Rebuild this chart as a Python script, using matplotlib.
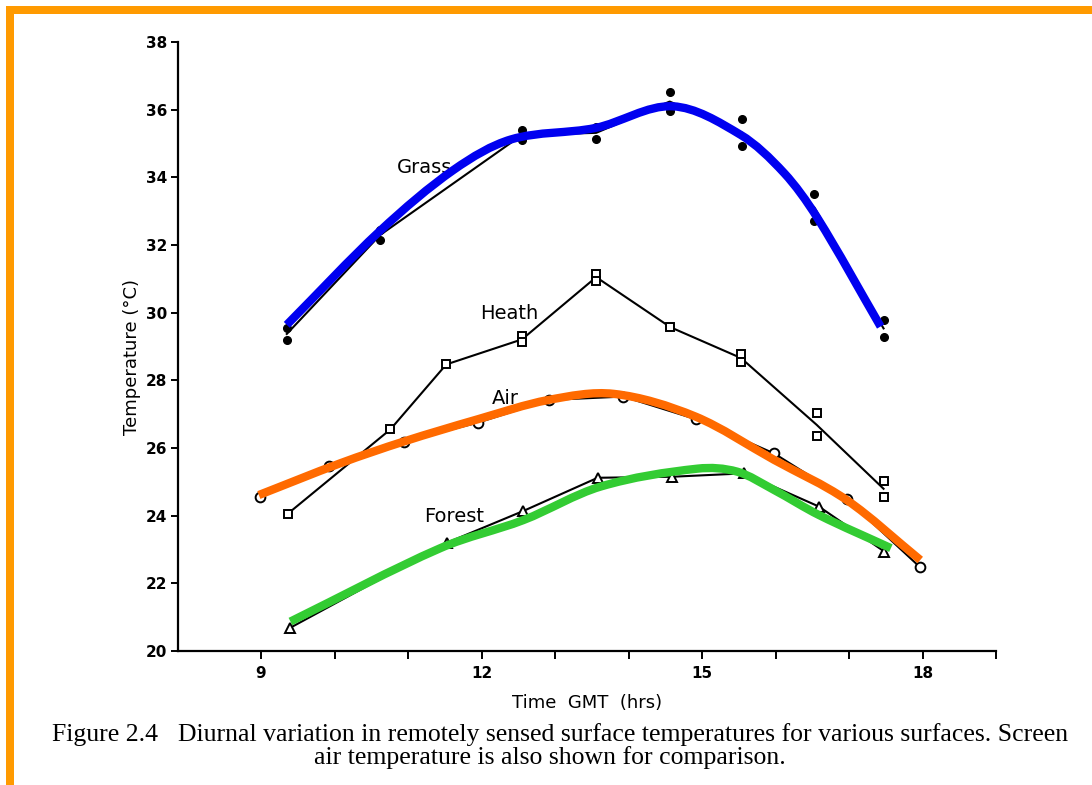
import numpy as np
import matplotlib
matplotlib.use("Agg")
import matplotlib.pyplot as plt
from matplotlib.path import Path
from matplotlib.patches import PathPatch, Rectangle
from matplotlib.ticker import FixedLocator

# ---- measurements -------------------------------------------------------
# Grass: two readings per overpass (filled dots)
grass_t = [9.35, 10.62, 12.55, 13.56, 14.56, 15.54, 16.53, 17.47]
grass_hi = [29.55, 32.44, 35.40, 35.50, 36.53, 35.72, 33.50, 29.78]
grass_lo = [29.19, 32.15, 35.10, 35.13, 35.95, 34.93, 32.71, 29.29]

# Heath: open squares (second reading where one was taken)
heath_t = [9.36, 10.76, 11.52, 12.55, 13.56, 14.57, 15.53, 16.56, 17.47]
heath_hi = [24.05, 26.55, 28.47, 29.30, 31.15, 29.57, 28.77, 27.03, 25.03]
heath_lo = [np.nan, np.nan, np.nan, 29.12, 30.95, np.nan, 28.55, 26.34, 24.56]

# Screen air temperature: open circles
air_t = [8.98, 9.93, 10.95, 11.95, 12.92, 13.93, 14.92, 15.98, 16.97, 17.97]
air_temp = [24.56, 25.47, 26.19, 26.75, 27.42, 27.52, 26.85, 25.84, 24.49, 22.47]

# Forest: open triangles
forest_t = [9.40, 11.53, 12.57, 13.58, 14.59, 15.57, 16.59, 17.48]
forest_temp = [20.69, 23.20, 24.14, 25.12, 25.15, 25.25, 24.27, 22.94]

# Smoothed trend curves (knots)
grass_curve_t = [9.35, 10.62, 11.62, 12.40, 13.55, 14.60, 15.53, 16.12, 16.57,
                 17.43]
grass_curve_v = [29.64, 32.42, 34.22, 35.12, 35.46, 36.10, 35.25, 34.12, 32.80,
                 29.59]
air_curve_t = [8.97, 10.08, 10.94, 11.95, 12.91, 13.80, 14.91, 15.98, 16.97,
               17.97]
air_curve_v = [24.61, 25.55, 26.19, 26.85, 27.42, 27.60, 26.93, 25.65, 24.46,
               22.69]
forest_curve_t = [9.40, 11.44, 12.57, 13.62, 14.94, 15.48, 15.98, 16.59, 17.57]
forest_curve_v = [20.87, 23.04, 23.87, 24.86, 25.39, 25.30, 24.76, 24.02, 23.04]

major_hours = [9, 12, 15, 18]
minor_hours = [10, 11, 13, 14, 16, 17, 19]
temp_ticks = [20, 22, 24, 26, 28, 30, 32, 34, 36, 38]


def smooth_path(xs, ys):
    """Cubic Hermite curve y(x) through the knots, as a Bezier path."""
    x = np.asarray(xs, float)
    y = np.asarray(ys, float)
    n = len(x)
    m = np.empty(n)
    m[0] = (y[1] - y[0]) / (x[1] - x[0])
    m[-1] = (y[-1] - y[-2]) / (x[-1] - x[-2])
    for i in range(1, n - 1):
        m[i] = (y[i + 1] - y[i - 1]) / (x[i + 1] - x[i - 1])
    verts = [(x[0], y[0])]
    codes = [Path.MOVETO]
    for i in range(n - 1):
        h = (x[i + 1] - x[i]) / 3.0
        verts += [(x[i] + h, y[i] + m[i] * h),
                  (x[i + 1] - h, y[i + 1] - m[i + 1] * h),
                  (x[i + 1], y[i + 1])]
        codes += [Path.CURVE4] * 3
    return Path(verts, codes)


def mean_pair(hi, lo):
    hi = np.asarray(hi, float)
    lo = np.asarray(lo, float)
    return np.where(np.isnan(lo), hi, (hi + lo) / 2.0)


W, H = 1092, 785
fig = plt.figure(figsize=(W / 100, H / 100), dpi=100)
fig.patch.set_facecolor("white")

ax = fig.add_axes([178 / W, 1 - 651 / H, (996 - 178) / W, (651 - 42) / H])
ax.set_xlim(7.87, 19.0)
ax.set_ylim(20, 38)

# black connecting lines through the mean of paired readings
ax.plot(grass_t, mean_pair(grass_hi, grass_lo), color="black", lw=1.5, zorder=2)
ax.plot(heath_t, mean_pair(heath_hi, heath_lo), color="black", lw=1.5, zorder=2)
ax.plot(air_t, air_temp, color="black", lw=1.5, zorder=2)
ax.plot(forest_t, forest_temp, color="black", lw=1.5, zorder=2)

# markers
ax.plot(grass_t, grass_hi, "o", color="black", ms=5.5, zorder=3)
ax.plot(grass_t, grass_lo, "o", color="black", ms=5.5, zorder=3)
sq = dict(marker="s", ls="none", mfc="white", mec="black", ms=6, mew=1.4, zorder=3)
ax.plot(heath_t, heath_hi, **sq)
ax.plot(heath_t, heath_lo, **sq)
ax.plot(air_t, air_temp, "o", ls="none", mfc="white", mec="black", ms=7, mew=1.4, zorder=3)
ax.plot(forest_t, forest_temp, "^", ls="none", mfc="white", mec="black", ms=7, mew=1.4, zorder=3)

# highlighted trend curves
for xs, ys, col in [(grass_curve_t, grass_curve_v, "#0000F0"),
                    (air_curve_t, air_curve_v, "#FF6A00"),
                    (forest_curve_t, forest_curve_v, "#33CC33")]:
    ax.add_patch(PathPatch(smooth_path(xs, ys), facecolor="none", edgecolor=col,
                           lw=6, capstyle="butt", joinstyle="round", zorder=4))

# series names
lab = dict(fontsize=14, ha="center", va="center", family="DejaVu Sans", zorder=1)
ax.text(11.23, 34.28, "Grass", **lab)
ax.text(12.38, 29.99, "Heath", **lab)
ax.text(12.32, 27.45, "Air", **lab)
ax.text(11.63, 23.99, "Forest", **lab)

# axes styling
for s in ["top", "right"]:
    ax.spines[s].set_visible(False)
for s in ["left", "bottom"]:
    ax.spines[s].set_linewidth(1.6)
ax.xaxis.set_major_locator(FixedLocator(major_hours))
ax.xaxis.set_minor_locator(FixedLocator(minor_hours))
ax.set_yticks(temp_ticks)
ax.tick_params(axis="y", which="both", direction="out", width=1.4, length=5,
               labelsize=11, pad=3)
ax.tick_params(axis="x", which="both", direction="out", width=1.4, length=6,
               labelsize=11, pad=5)
for t in ax.get_xticklabels() + ax.get_yticklabels():
    t.set_fontweight("bold")
ax.set_ylabel("Temperature (°C)", fontsize=13, labelpad=3, y=0.483)
ax.set_xlabel("Time  GMT  (hrs)", fontsize=13, labelpad=9)

# caption
cap = dict(family="Liberation Serif", fontsize=18.5, va="center")
fig.text(52 / W, 1 - 735 / H, "Figure 2.4", ha="left", **cap)
fig.text(178 / W, 1 - 735 / H,
         "Diurnal variation in remotely sensed surface temperatures for various surfaces. Screen",
         ha="left", **cap)
fig.text(550 / W, 1 - 758 / H, "air temperature is also shown for comparison.",
         ha="center", **cap)

# frame bands
fig.patches.append(Rectangle((6 / W, 1 - 14 / H), 1 - 6 / W, 8 / H,
                             transform=fig.transFigure, color="#FF9A00", lw=0))
fig.patches.append(Rectangle((6 / W, 0), 8 / W, 1 - 6 / H,
                             transform=fig.transFigure, color="#FF9A00", lw=0))

fig.savefig("out.png", dpi=100)
